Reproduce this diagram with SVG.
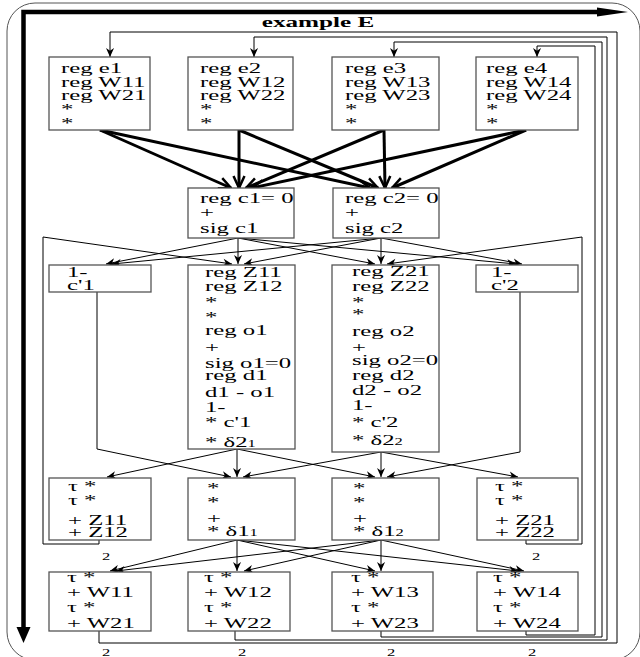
<svg xmlns="http://www.w3.org/2000/svg" width="640" height="657" viewBox="0 0 640 657">
<defs>
<style>
text{font-family:"Liberation Serif","Times New Roman",serif;font-size:15px;fill:#000}
.n rect{fill:#fff;stroke:#555;stroke-width:1.3}
.e path{fill:none;stroke:#000;stroke-width:1}
.e .t{stroke-width:3}
.sub{font-size:10px}
.lbl{font-size:11px}
</style>
<marker id="a" viewBox="0 0 10 10" refX="10" refY="5" markerWidth="10" markerHeight="9" markerUnits="userSpaceOnUse" orient="auto">
<path d="M0,0.5 L10,5 L0,9.5 L3,5 z" fill="#000"/>
</marker>
<marker id="b" viewBox="0 0 14 14" refX="13" refY="7" markerWidth="14" markerHeight="14" markerUnits="userSpaceOnUse" orient="auto">
<path d="M1,1.5 L13,7 L1,12.5" fill="none" stroke="#000" stroke-width="2.5"/>
</marker>
</defs>
<rect x="7" y="3" width="633" height="657" rx="28" fill="#fff" stroke="#555" stroke-width="1"/>
<g id="frame">
<path d="M23.5,628 V12 H600" fill="none" stroke="#000" stroke-width="4.5"/>
<polygon points="597,7.5 628,12 597,16.5" fill="#000"/>
<polygon points="16.5,627 30.5,627 23.5,643" fill="#000"/>
<text transform="translate(318,27) scale(1.68,1)" text-anchor="middle" font-weight="bold">example E</text>
</g>
<g class="e" id="connectors">
<path class="t" d="M100,130 L231,188" marker-end="url(#b)"/>
<path class="t" d="M100,130 L370,188" marker-end="url(#b)"/>
<path class="t" d="M239,130 L239,188" marker-end="url(#b)"/>
<path class="t" d="M239,130 L378,188" marker-end="url(#b)"/>
<path class="t" d="M384,130 L246,188" marker-end="url(#b)"/>
<path class="t" d="M384,130 L385,188" marker-end="url(#b)"/>
<path class="t" d="M526,130 L252,188" marker-end="url(#b)"/>
<path class="t" d="M526,130 L392,188" marker-end="url(#b)"/>
<path d="M238,238 L106,264" marker-end="url(#a)"/>
<path d="M238,238 L238,264" marker-end="url(#a)"/>
<path d="M238,238 L375,264" marker-end="url(#a)"/>
<path d="M238,238 L516,264" marker-end="url(#a)"/>
<path d="M381,238 L112,264" marker-end="url(#a)"/>
<path d="M381,238 L244,264" marker-end="url(#a)"/>
<path d="M381,238 L381,264" marker-end="url(#a)"/>
<path d="M381,238 L522,264" marker-end="url(#a)"/>
<path d="M99,540 V544 H43 V237 L232,264" marker-end="url(#a)"/>
<path d="M526,540 V544 H582 V237 L387,264" marker-end="url(#a)"/>
<path d="M237,449 L107,477" marker-end="url(#a)"/>
<path d="M237,449 L237,477" marker-end="url(#a)"/>
<path d="M237,449 L375,477" marker-end="url(#a)"/>
<path d="M381,452 L243,477" marker-end="url(#a)"/>
<path d="M381,452 L381,477" marker-end="url(#a)"/>
<path d="M381,452 L518,477" marker-end="url(#a)"/>
<path d="M97,292 V449 L231,477" marker-end="url(#a)"/>
<path d="M520,292 V452 L387,477" marker-end="url(#a)"/>
<path d="M237,540 L110,571" marker-end="url(#a)"/>
<path d="M237,540 L237,571" marker-end="url(#a)"/>
<path d="M237,540 L375,571" marker-end="url(#a)"/>
<path d="M237,540 L518,571" marker-end="url(#a)"/>
<path d="M381,540 L116,571" marker-end="url(#a)"/>
<path d="M381,540 L244,571" marker-end="url(#a)"/>
<path d="M381,540 L381,571" marker-end="url(#a)"/>
<path d="M381,540 L524,571" marker-end="url(#a)"/>
<path d="M99,631 V643 H617 V32 H110 V57" marker-end="url(#a)"/>
<path d="M235,631 V640 H607 V37 H254 V57" marker-end="url(#a)"/>
<path d="M381,631 V637 H602 V42 H394 V57" marker-end="url(#a)"/>
<path d="M526,631 V635 H595 V46 H537 V57" marker-end="url(#a)"/>
<text class="lbl" transform="translate(102,560) scale(1.5,1)">2</text>
<text class="lbl" transform="translate(532,560) scale(1.5,1)">2</text>
<text class="lbl" transform="translate(102,656) scale(1.5,1)">2</text>
<text class="lbl" transform="translate(238,656) scale(1.5,1)">2</text>
<text class="lbl" transform="translate(387,656) scale(1.5,1)">2</text>
<text class="lbl" transform="translate(528,656) scale(1.5,1)">2</text>
</g>
<g class="n" id="e1"><rect x="49" y="57" width="101" height="73"/>
<g transform="translate(61,0) scale(1.65,1)"><text y="73">reg e1</text><text y="87">reg W11</text><text y="100">reg W21</text><text y="114">*</text><text y="128">*</text></g></g>
<g class="n" id="e2"><rect x="188" y="57" width="105" height="73"/>
<g transform="translate(200,0) scale(1.65,1)"><text y="73">reg e2</text><text y="87">reg W12</text><text y="100">reg W22</text><text y="114">*</text><text y="128">*</text></g></g>
<g class="n" id="e3"><rect x="332" y="57" width="107" height="73"/>
<g transform="translate(345,0) scale(1.65,1)"><text y="73">reg e3</text><text y="87">reg W13</text><text y="100">reg W23</text><text y="114">*</text><text y="128">*</text></g></g>
<g class="n" id="e4"><rect x="476" y="57" width="102" height="73"/>
<g transform="translate(486,0) scale(1.65,1)"><text y="73">reg e4</text><text y="87">reg W14</text><text y="100">reg W24</text><text y="114">*</text><text y="128">*</text></g></g>
<g class="n" id="c1"><rect x="188" y="188" width="106" height="50"/>
<g transform="translate(200,0) scale(1.65,1)"><text y="203">reg c1= 0</text><text y="217">+</text><text y="233">sig c1</text></g></g>
<g class="n" id="c2"><rect x="333" y="188" width="106" height="50"/>
<g transform="translate(345,0) scale(1.65,1)"><text y="203">reg c2= 0</text><text y="217">+</text><text y="233">sig c2</text></g></g>
<g class="n" id="nc1"><rect x="49" y="265" width="102" height="27"/>
<g transform="translate(67,0) scale(1.65,1)"><text y="277">1-</text><text y="290">c'1</text></g></g>
<g class="n" id="z1"><rect x="188" y="265" width="107" height="184"/>
<g transform="translate(205,0) scale(1.65,1)"><text y="277">reg Z11</text><text y="291">reg Z12</text><text y="307">*</text><text y="322">*</text><text y="335">reg o1</text><text y="352">+</text><text y="368">sig o1=0</text><text y="380">reg d1</text><text y="397">d1 - o1</text><text y="412">1-</text><text y="427">* c'1</text><text y="447">* δ2<tspan class="sub">1</tspan></text></g></g>
<g class="n" id="z2"><rect x="332" y="265" width="107" height="187"/>
<g transform="translate(352,0) scale(1.65,1)"><text y="276">reg Z21</text><text y="291">reg Z22</text><text y="307">*</text><text y="319">*</text><text y="336">reg o2</text><text y="352">+</text><text y="365">sig o2=0</text><text y="380">reg d2</text><text y="395">d2 - o2</text><text y="410">1-</text><text y="427">* c'2</text><text y="445">* δ2<tspan class="sub">2</tspan></text></g></g>
<g class="n" id="nc2"><rect x="476" y="265" width="102" height="27"/>
<g transform="translate(491,0) scale(1.65,1)"><text y="277">1-</text><text y="290">c'2</text></g></g>
<g class="n" id="uz1"><rect x="49" y="478" width="102" height="62"/>
<g transform="translate(68,0) scale(1.65,1)"><text y="491">τ *</text><text y="505">τ *</text><text y="525">+ Z11</text><text y="537">+ Z12</text></g></g>
<g class="n" id="d1"><rect x="188" y="478" width="107" height="62"/>
<g transform="translate(207,0) scale(1.65,1)"><text y="493">*</text><text y="507">*</text><text y="523">+</text><text y="536">* δ1<tspan class="sub">1</tspan></text></g></g>
<g class="n" id="d2"><rect x="332" y="478" width="107" height="62"/>
<g transform="translate(353,0) scale(1.65,1)"><text y="493">*</text><text y="507">*</text><text y="523">+</text><text y="536">* δ1<tspan class="sub">2</tspan></text></g></g>
<g class="n" id="uz2"><rect x="477" y="478" width="101" height="62"/>
<g transform="translate(495,0) scale(1.65,1)"><text y="491">τ *</text><text y="505">τ *</text><text y="525">+ Z21</text><text y="537">+ Z22</text></g></g>
<g class="n" id="w1"><rect x="49" y="572" width="102" height="59"/>
<g transform="translate(67,0) scale(1.65,1)"><text y="582">τ *</text><text y="597">+ W11</text><text y="612">τ *</text><text y="628">+ W21</text></g></g>
<g class="n" id="w2"><rect x="188" y="572" width="102" height="59"/>
<g transform="translate(204,0) scale(1.65,1)"><text y="582">τ *</text><text y="597">+ W12</text><text y="612">τ *</text><text y="628">+ W22</text></g></g>
<g class="n" id="w3"><rect x="332" y="572" width="101" height="59"/>
<g transform="translate(351,0) scale(1.65,1)"><text y="582">τ *</text><text y="597">+ W13</text><text y="612">τ *</text><text y="628">+ W23</text></g></g>
<g class="n" id="w4"><rect x="477" y="572" width="101" height="59"/>
<g transform="translate(493,0) scale(1.65,1)"><text y="582">τ *</text><text y="597">+ W14</text><text y="612">τ *</text><text y="628">+ W24</text></g></g>
</svg>
